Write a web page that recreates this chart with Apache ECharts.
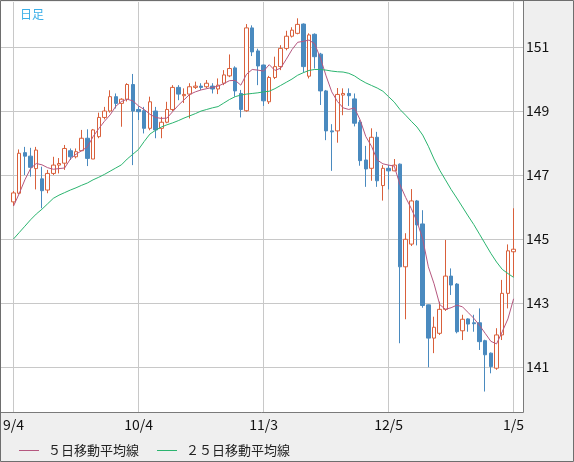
<!DOCTYPE html>
<html>
<head>
<meta charset="utf-8">
<script src="https://cdn.jsdelivr.net/npm/echarts@6/dist/echarts.min.js"></script>
<style>
html,body{margin:0;padding:0;background:#efefef;}
#c{width:574px;height:462px;}
</style>
</head>
<body>
<div id="c"></div>
<script>
const dates = [
 "9/4","9/5","9/6","9/7","9/8","9/11","9/12","9/13","9/14","9/15",
 "9/18","9/19","9/20","9/21","9/22","9/25","9/26","9/27","9/28","9/29",
 "10/2","10/3","10/4","10/5","10/6","10/9","10/10","10/11","10/12","10/13",
 "10/16","10/17","10/18","10/19","10/20","10/23","10/24","10/25","10/26","10/27",
 "10/30","10/31","11/1","11/2","11/3","11/6","11/7","11/8","11/9","11/10",
 "11/13","11/14","11/15","11/16","11/17","11/20","11/21","11/22","11/23","11/24",
 "11/27","11/28","11/29","11/30","12/1","12/4","12/5","12/6","12/7","12/8",
 "12/11","12/12","12/13","12/14","12/15","12/18","12/19","12/20","12/21","12/22",
 "12/25","12/26","12/27","12/28","12/29","1/2","1/3","1/4","1/5"
];
const openVals = [
 146.16,146.43,147.70,147.59,147.20,146.88,146.53,147.05,147.31,147.37,
 147.76,147.57,147.76,148.15,147.50,148.20,148.80,149.00,149.45,149.24,
 149.37,149.83,149.05,149.01,148.46,149.00,148.46,148.65,149.05,149.74,
 149.48,149.53,149.74,149.78,149.76,149.78,149.69,149.87,150.10,150.35,
 149.55,149.01,151.60,150.88,150.44,149.29,150.05,150.39,150.96,151.34,
 151.43,151.72,150.09,151.40,150.78,149.63,148.38,148.38,149.50,149.55,
 149.38,148.65,147.47,147.21,148.18,146.67,147.21,147.13,147.34,144.13,
 144.84,146.19,145.47,142.94,141.90,142.05,142.80,143.84,143.59,142.13,
 142.50,142.38,142.38,141.82,141.43,140.96,142.00,143.30,144.60
];
const closeVals = [
 146.44,147.68,147.59,147.24,147.78,146.51,147.05,147.31,147.36,147.83,
 147.57,147.73,148.15,147.52,148.41,148.80,149.00,149.45,149.24,149.37,
 149.83,149.00,148.98,148.46,149.29,148.41,148.65,149.05,149.74,149.53,
 149.52,149.76,149.78,149.74,149.87,149.69,149.81,150.13,150.33,149.63,
 149.05,151.60,150.85,150.41,149.32,150.05,150.39,150.96,151.34,151.53,
 151.71,150.39,151.38,150.70,149.63,148.38,148.35,149.52,149.55,149.48,
 148.62,147.45,147.19,148.18,146.82,147.21,147.13,147.31,144.13,144.99,
 146.19,145.44,142.92,141.90,142.24,142.80,143.84,143.56,142.10,142.49,
 142.34,142.35,141.79,141.38,141.01,142.00,143.30,144.63,144.68
];
const lowVals = [
 146.03,146.40,147.00,146.95,146.55,145.96,146.43,147.00,147.05,147.16,
 147.47,147.52,147.75,147.28,147.50,148.15,148.74,148.95,149.08,148.51,
 149.30,147.31,148.72,148.30,148.40,148.15,148.15,148.62,149.00,149.34,
 149.25,148.77,149.69,149.66,149.71,149.55,149.53,149.81,150.06,149.45,
 148.80,148.98,150.72,149.81,149.16,149.22,150.00,150.28,150.90,151.30,
 151.40,150.20,150.02,150.33,149.19,148.09,147.13,148.01,148.87,149.16,
 148.52,147.29,146.63,146.82,146.63,146.20,146.55,147.12,141.74,142.49,
 144.78,144.80,142.85,140.99,141.43,142.00,142.75,143.25,142.05,141.84,
 142.10,142.10,141.53,140.23,140.80,140.91,141.84,142.83,143.82
];
const highVals = [
 146.50,147.80,147.88,147.85,147.88,147.26,147.16,147.57,147.53,147.94,
 147.83,147.83,148.41,148.43,148.44,148.95,149.13,149.65,149.55,149.40,
 149.87,150.16,149.15,149.13,149.45,149.13,148.82,149.29,149.81,149.81,
 149.71,149.87,149.92,149.87,149.97,149.87,150.02,150.28,150.77,150.40,
 149.66,151.72,151.68,150.95,150.45,150.10,150.70,151.06,151.51,151.62,
 151.90,151.74,151.43,151.43,150.82,149.66,148.59,149.72,149.71,149.71,
 149.55,148.72,147.91,148.46,148.35,147.31,147.31,147.50,147.36,145.18,
 146.56,146.22,145.90,142.95,142.57,143.04,144.97,144.08,143.62,142.63,
 142.52,142.63,142.83,141.85,141.45,142.21,143.72,144.83,145.96
];
const ma5Vals = [
 146.03,146.42,146.85,147.20,147.36,147.32,147.23,147.18,147.20,147.22,
 147.50,147.65,147.76,147.88,148.20,148.45,148.68,148.88,149.15,149.30,
 149.37,149.32,149.16,149.05,148.90,148.80,148.77,148.78,148.98,149.18,
 149.35,149.52,149.60,149.66,149.70,149.74,149.78,149.86,149.95,149.96,
 149.81,150.15,150.30,150.28,150.25,150.45,150.27,150.34,150.62,150.92,
 151.15,151.18,151.22,151.10,150.66,150.10,149.60,149.30,149.10,149.05,
 149.10,148.72,148.20,147.90,147.47,147.35,147.31,147.28,146.70,146.30,
 145.95,145.55,145.00,144.13,143.60,142.95,142.80,142.85,142.93,142.88,
 142.70,142.52,142.30,142.05,141.80,141.72,142.10,142.50,143.13
];
const ma25Vals = [
 145.00,145.20,145.40,145.60,145.78,145.93,146.10,146.27,146.37,146.45,
 146.53,146.60,146.68,146.75,146.85,146.93,147.02,147.12,147.22,147.32,
 147.50,147.65,147.80,148.05,148.28,148.40,148.50,148.57,148.63,148.70,
 148.78,148.85,148.92,149.00,149.05,149.10,149.14,149.25,149.36,149.45,
 149.50,149.53,149.55,149.57,149.60,149.62,149.70,149.80,149.90,150.00,
 150.12,150.20,150.27,150.30,150.30,150.28,150.25,150.23,150.22,150.18,
 150.10,149.98,149.88,149.80,149.72,149.62,149.45,149.28,149.05,148.87,
 148.68,148.50,148.25,147.90,147.50,147.15,146.85,146.55,146.28,146.00,
 145.72,145.45,145.15,144.85,144.55,144.28,144.05,143.92,143.80
];
const yTicks = [141, 143, 145, 147, 149, 151];
const legendNames = ["５日移動平均線", "２５日移動平均線"];

const candleData = dates.map((d, i) => [openVals[i], closeVals[i], lowVals[i], highVals[i]]);

const FONT = "'Noto Sans CJK JP', 'DejaVu Sans', sans-serif";
const YMIN = 139.59, YMAX = 152.41;
const UP = '#d9603b', DOWN = '#4a8abf', MA5C = '#b5577f', MA25C = '#2bb46f', GRID = '#c8c8c8';

const chart = echarts.init(document.getElementById('c'), null, {renderer: 'canvas'});
chart.setOption({
  animation: false,
  backgroundColor: '#efefef',
  title: {
    text: '日足', left: 15, top: 3,
    textStyle: {fontSize: 12, color: '#3aaee8', fontWeight: 'normal', fontFamily: FONT}
  },
  legend: {
    left: 14, top: 439, itemWidth: 20, itemHeight: 1, itemGap: 18, icon: 'rect',
    textStyle: {fontSize: 13, color: '#222', fontFamily: FONT, padding: [0, 0, 0, 4]},
    data: legendNames
  },
  grid: [
    {left: 1, right: 51, top: 2, bottom: 50, show: true, backgroundColor: '#ffffff', borderWidth: 0},
    {left: 12, right: 60.4, top: 2, bottom: 50}
  ],
  xAxis: [
    {gridIndex: 0, type: 'value', min: 0, max: 1, show: false},
    {
      gridIndex: 1, type: 'category', data: dates, boundaryGap: false,
      axisLine: {show: false}, axisTick: {show: false},
      axisLabel: {interval: 21, margin: 6, color: '#111', fontSize: 14, fontFamily: FONT},
      splitLine: {show: true, interval: 21, lineStyle: {color: GRID, width: 1}}
    }
  ],
  yAxis: [
    {
      gridIndex: 0, type: 'value', position: 'right', min: YMIN, max: YMAX,
      axisLine: {show: false},
      axisTick: {show: false, customValues: yTicks},
      axisLabel: {customValues: yTicks, margin: 3, color: '#111', fontSize: 14, fontFamily: FONT},
      splitLine: {show: true, lineStyle: {color: GRID, width: 1}}
    },
    {gridIndex: 1, type: 'value', min: YMIN, max: YMAX, show: false, splitLine: {show: false}}
  ],
  series: [
    {
      type: 'candlestick', xAxisIndex: 1, yAxisIndex: 1, data: candleData, barWidth: 4,
      itemStyle: {color: '#ffffff', color0: DOWN, borderColor: UP, borderColor0: DOWN, borderWidth: 1}
    },
    {
      name: legendNames[0], type: 'line', xAxisIndex: 1, yAxisIndex: 1, data: ma5Vals,
      showSymbol: false, symbol: 'none', z: 5, lineStyle: {color: MA5C, width: 1}, itemStyle: {color: MA5C}
    },
    {
      name: legendNames[1], type: 'line', xAxisIndex: 1, yAxisIndex: 1, data: ma25Vals,
      showSymbol: false, symbol: 'none', z: 5, lineStyle: {color: MA25C, width: 1}, itemStyle: {color: MA25C}
    }
  ],
  graphic: [
    {type: 'line', z: 100, shape: {x1: 523.5, y1: 0, x2: 523.5, y2: 412.5}, style: {stroke: '#7a7a7a', lineWidth: 1}},
    {type: 'line', z: 100, shape: {x1: 0, y1: 412.5, x2: 523.5, y2: 412.5}, style: {stroke: '#7a7a7a', lineWidth: 1}},
    {type: 'rect', z: 101, shape: {x: 0.5, y: 0.5, width: 573, height: 461}, style: {fill: 'none', stroke: '#6e6e6e', lineWidth: 1}}
  ]
});
</script>
</body>
</html>
